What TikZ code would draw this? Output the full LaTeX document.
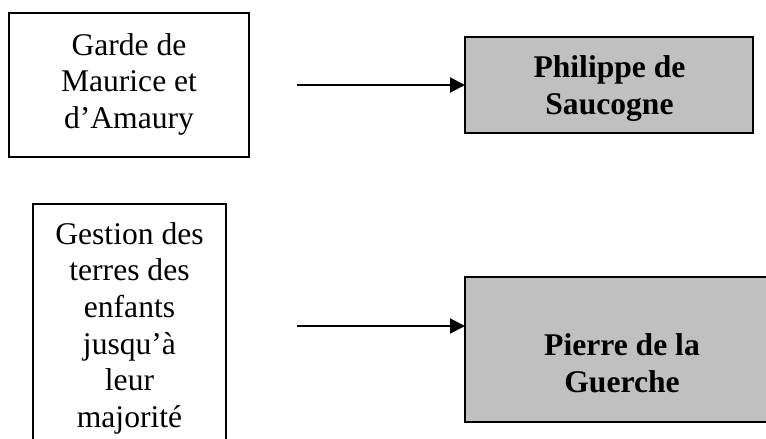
\documentclass[tikz,border=0pt]{standalone}
\usepackage{fontspec}
\setmainfont{Liberation Serif}
\usetikzlibrary{arrows.meta}
\definecolor{boxgrey}{HTML}{C0C0C0}
\tikzset{
  frame/.style={draw=black, line width=1.3pt, rectangle, inner sep=0pt, outer sep=0pt},
  greybox/.style={frame, fill=boxgrey},
  txt/.style={align=center, inner sep=0pt, anchor=base, font=\fontsize{31.6}{36.7}\selectfont},
  btxt/.style={txt, font=\fontsize{31.6}{36.7}\selectfont\bfseries},
  conn/.style={line width=2pt, -{Triangle[length=15pt,width=15pt]}}
}
\begin{document}
\begin{tikzpicture}[x=1pt,y=-1pt]
\clip (0,0) rectangle (766,439);
\fill[white] (0,0) rectangle (766,439);
\node[frame, minimum width=240pt, minimum height=144pt] (b1) at (129,85) {};
\node[greybox, minimum width=288pt, minimum height=96pt] (b2) at (609,85) {};
\node[frame, minimum width=193pt, minimum height=266pt] (b3) at (129.5,337) {};
\node[greybox, minimum width=325pt, minimum height=145pt] (b4) at (627.5,349.5) {};
\node[txt] (t1) at (129,128.5) {Garde de\\Maurice et\\d’Amaury};
\node[btxt] (t2) at (609.5,114.5) {Philippe de\\Saucogne};
\node[txt] (t3) at (129.5,427.5) {Gestion des\\terres des\\enfants\\jusqu’à\\leur\\majorité};
\node[btxt] (t4) at (622,392) {Pierre de la\\Guerche};
\coordinate (s1) at (297,85);
\coordinate (s2) at (297,326);
\draw[conn] (s1) -- (b2.west);
\draw[conn] (s2) -- (s2 -| b4.west);
\end{tikzpicture}
\end{document}
